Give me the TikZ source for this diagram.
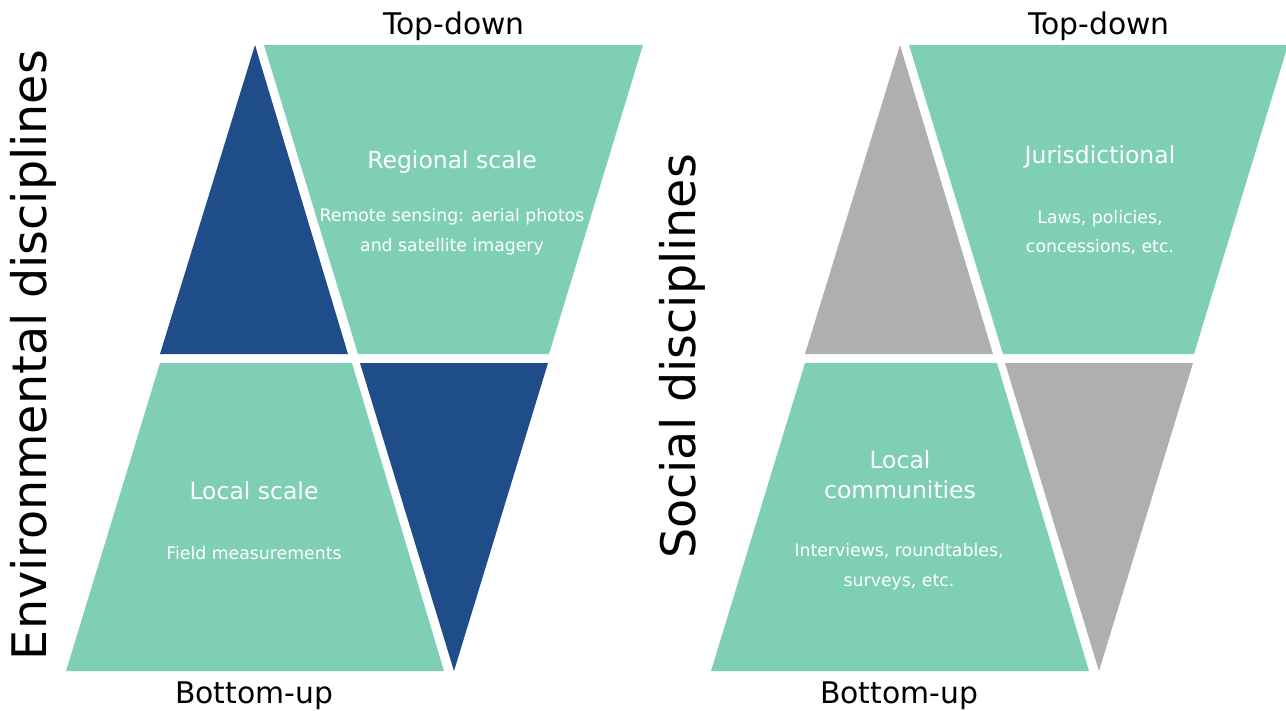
\documentclass[tikz,border=0pt]{standalone}
\usepackage{fontspec}
\setmainfont{DejaVu Sans}
\definecolor{pgreen}{HTML}{7ECFB6}
\definecolor{pblue}{HTML}{1F4D89}
\definecolor{pgrey}{HTML}{AFAFAF}
\begin{document}
\begin{tikzpicture}[x=1pt,y=-1pt,
  big/.style={inner sep=0pt,font=\fontsize{29.8}{35}\selectfont,text=black},
  side/.style={inner sep=0pt,font=\fontsize{47.6}{50}\selectfont,text=black,rotate=90,anchor=base},
  head/.style={inner sep=0pt,font=\fontsize{23.5}{30}\selectfont,text=white,align=center},
  sub/.style={inner sep=0pt,font=\fontsize{17.3}{29.5}\selectfont,text=white,align=center}]
\useasboundingbox (0,0) rectangle (1286,710);
% left panel
\fill[pblue] (255,45) -- (348,354) -- (160,354) -- cycle;
\fill[pgreen] (264,45) -- (643,45) -- (549,354) -- (358,354) -- cycle;
\fill[pgreen] (160,363) -- (352,363) -- (444,671) -- (66,671) -- cycle;
\fill[pblue] (360,363) -- (548,363) -- (454,671) -- cycle;
% right panel
\begin{scope}[xshift=645pt]
\fill[pgrey] (255,45) -- (348,354) -- (160,354) -- cycle;
\fill[pgreen] (264,45) -- (643,45) -- (549,354) -- (358,354) -- cycle;
\fill[pgreen] (160,363) -- (352,363) -- (444,671) -- (66,671) -- cycle;
\fill[pgrey] (360,363) -- (548,363) -- (454,671) -- cycle;
\end{scope}
% labels
\node[big] (td1) at (454,26) {Top-down};
\node[big] (bu1) at (254,696) {Bottom-up};
\node[big] (td2) at (1099,26) {Top-down};
\node[big] (bu2) at (899,696) {Bottom-up};
\node[side] (env) at (46,355) {Environmental disciplines};
\node[side] (soc) at (695,356.5) {Social disciplines};
\node[head] (reg) at (452,162) {Regional scale};
\node[sub] (regs) at (452,231.5) {Remote sensing: aerial photos\\and satellite imagery};
\node[head] (loc) at (254,491) {Local scale};
\node[sub] (locs) at (254,553) {Field measurements};
\node[head] (jur) at (1100,157) {Jurisdictional};
\node[sub] (jurs) at (1100,232.5) {Laws, policies,\\concessions, etc.};
\node[head] (com) at (900,475) {Local\\communities};
\node[sub] (coms) at (899,566.5) {Interviews, roundtables,\\surveys, etc.};
\end{tikzpicture}
\end{document}
